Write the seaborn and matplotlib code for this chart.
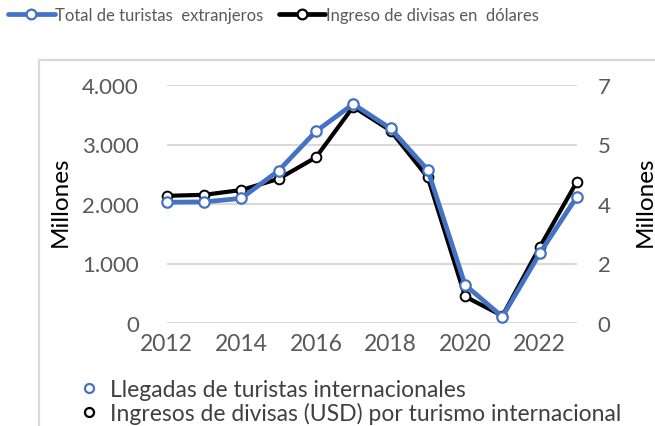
import matplotlib
matplotlib.use("Agg")
import matplotlib.pyplot as plt
import seaborn as sns
import pandas as pd
from matplotlib.lines import Line2D
from matplotlib.ticker import FuncFormatter, FixedLocator

years = [2012, 2013, 2014, 2015, 2016, 2017, 2018, 2019, 2020, 2021, 2022, 2023]
tourists = [2030, 2035, 2095, 2560, 3220, 3680, 3270, 2570, 640, 105, 1170, 2125]
income = [3.74, 3.77, 3.91, 4.24, 4.87, 6.36, 5.66, 4.28, 0.78, 0.21, 2.23, 4.16]

left_ticks = [0, 1000, 2000, 3000, 4000]
right_ticks = [0, 1.75, 3.5, 5.25, 7]
right_labels = ["0", "2", "4", "5", "7"]
x_ticks = [2012, 2014, 2016, 2018, 2020, 2022]

top_labels = ["Total de turistas  extranjeros", "Ingreso de divisas en  dólares"]
bottom_labels = ["Llegadas de turistas internacionales",
                 "Ingresos de divisas (USD) por turismo internacional"]
ylabel = "Millones"

BLUE = "#4472C4"
GRAY_TXT = "#595959"
GRID = "#D9D9D9"

sns.set_theme(style="white")
plt.rcParams["font.family"] = ["Lato", "DejaVu Sans"]

df = pd.DataFrame({"year": years, "tourists": tourists, "income": income})

W, H = 655, 427
fig = plt.figure(figsize=(W / 100, H / 100), dpi=100)
ax = fig.add_axes([166.7 / W, 1 - 324 / H, (577 - 166.7) / W, (324 - 86) / H])
ax2 = ax.twinx()
ax.set_zorder(ax2.get_zorder() + 1)
ax.patch.set_visible(False)

sns.lineplot(data=df, x="year", y="income", ax=ax2, color="black", linewidth=3.0,
             marker="o", markersize=7, markerfacecolor="white",
             markeredgecolor="black", markeredgewidth=1.4, clip_on=False)
sns.lineplot(data=df, x="year", y="tourists", ax=ax, color=BLUE, linewidth=3.4,
             marker="o", markersize=7.5, markerfacecolor="white",
             markeredgecolor=BLUE, markeredgewidth=1.6, clip_on=False)

ax.set_xlim(2012, 2023)
ax.set_ylim(0, 4000)
ax2.set_ylim(0, 7)
ax.set_xticks(x_ticks)
ax.set_yticks(left_ticks)
ax.yaxis.set_major_formatter(FuncFormatter(lambda v, p: f"{int(v):,}".replace(",", ".")))
ax2.yaxis.set_major_locator(FixedLocator(right_ticks))
ax2.set_yticklabels(right_labels)

for a in (ax, ax2):
    for s in a.spines.values():
        s.set_visible(False)
    a.set_xlabel("")
    a.set_ylabel("")
ax.grid(False)
ax2.grid(True, axis="y", color=GRID, linewidth=1.5)
ax2.grid(False, axis="x")

ax.tick_params(axis="y", length=0, pad=20, labelsize=16, labelcolor=GRAY_TXT)
ax.tick_params(axis="x", length=0, pad=7, labelsize=16.5, labelcolor=GRAY_TXT)
ax2.tick_params(axis="y", length=0, pad=15, labelsize=16, labelcolor=GRAY_TXT)

fig.text(60 / W, 1 - 202 / H, ylabel, rotation=90, ha="center", va="center",
         fontsize=17.5, color="black")
fig.text(645 / W, 1 - 202 / H, ylabel, rotation=90, ha="center", va="center",
         fontsize=17.5, color="black")

# frame
fig.add_artist(Line2D([39 / W, 39 / W], [0, 1 - 61 / H], transform=fig.transFigure,
                      color=GRID, linewidth=1.6))
fig.add_artist(Line2D([39 / W, 1.0], [1 - 61 / H, 1 - 61 / H], transform=fig.transFigure,
                      color=GRID, linewidth=1.6))

# top legend
top_handles = [
    Line2D([], [], color=BLUE, linewidth=3.4, marker="o", markersize=7,
           markerfacecolor="white", markeredgecolor=BLUE, markeredgewidth=1.6),
    Line2D([], [], color="black", linewidth=3.4, marker="o", markersize=7,
           markerfacecolor="white", markeredgecolor="black", markeredgewidth=1.6),
]
leg1 = fig.legend(top_handles, top_labels, loc="center left",
                  bbox_to_anchor=(8 / W, 1 - 16 / H), ncol=2, frameon=False,
                  handlelength=2.8, handletextpad=0.05, columnspacing=0.9,
                  prop={"family": ["Liberation Sans Narrow", "Lato"], "size": 12},
                  borderaxespad=0, borderpad=0)
for t in leg1.get_texts():
    t.set_color(GRAY_TXT)

# bottom legend
bottom_handles = [
    Line2D([], [], linestyle="none", marker="o", markersize=6.5,
           markerfacecolor="white", markeredgecolor=BLUE, markeredgewidth=1.6),
    Line2D([], [], linestyle="none", marker="o", markersize=6.5,
           markerfacecolor="white", markeredgecolor="black", markeredgewidth=1.6),
]
leg2 = fig.legend(bottom_handles, bottom_labels, loc="upper left",
                  bbox_to_anchor=(78 / W, 1 - 380 / H), ncol=1, frameon=False,
                  handlelength=1.0, handletextpad=0.4, labelspacing=0.1,
                  prop={"size": 16.5}, borderaxespad=0, borderpad=0)
for t in leg2.get_texts():
    t.set_color("#404040")

fig.savefig("out.png", dpi=100)
